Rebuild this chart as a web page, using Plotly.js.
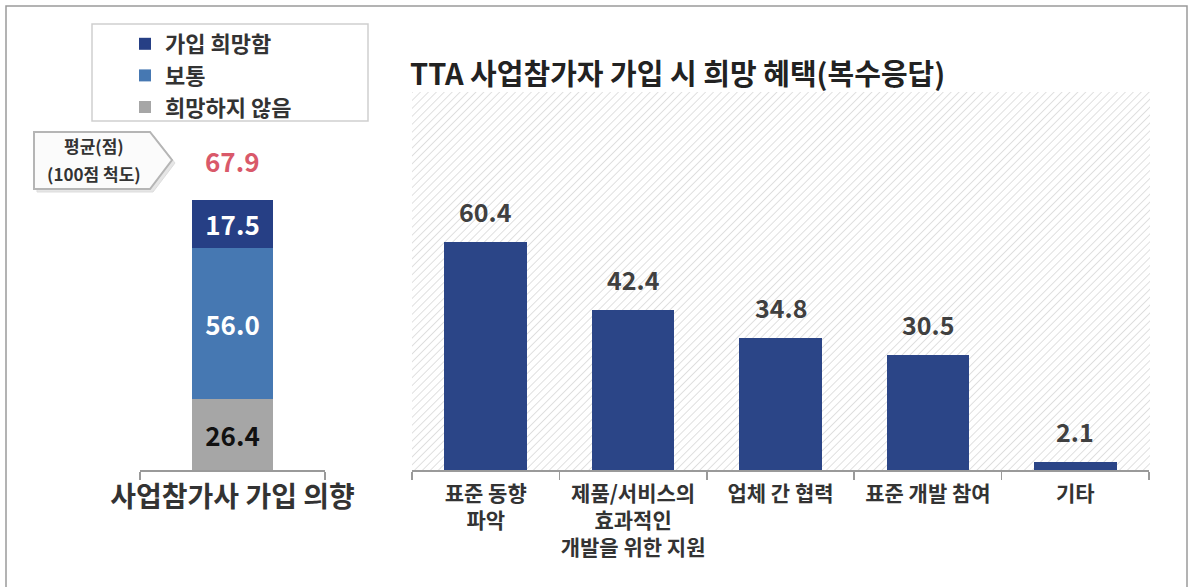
<!DOCTYPE html>
<html>
<head>
<meta charset="utf-8">
<script src="https://cdn.plot.ly/plotly-3.0.1.min.js"></script>
<style>
  html, body { margin: 0; padding: 0; background: #fff; }
  #chart { width: 1192px; height: 587px; }
</style>
</head>
<body>
<div id="chart"></div>
<script>
// left: intention to join (stacked, %)
const intentCats = ['사업참가사 가입 의향']
const intentSeries = ['희망하지 않음', '보통', '가입 희망함']
const intentValues = [26.4, 56.0, 17.5]
const intentColors = ['#a6a6a6', '#4678b2', '#263f85']
const intentTextColors = ['#111111', '#ffffff', '#ffffff']
const avgScore = 67.9

// right: desired benefits (multiple answers, %)
const benefitCats = ['표준 동향<br>파악', '제품/서비스의<br>효과적인<br>개발을 위한 지원', '업체 간 협력', '표준 개발 참여', '기타']
const benefitValues = [60.4, 42.4, 34.8, 30.5, 2.1]

const W = 1192, H = 587
const px = v => v / W
const py = v => 1 - v / H
const KR = '"Noto Sans CJK KR", "Noto Sans", sans-serif'

// stacked bar traces, bottom segment first
const traces = intentSeries.map((name, i) => ({
    type: 'bar',
    name: name,
    x: intentCats,
    y: [intentValues[i]],
    xaxis: 'x',
    yaxis: 'y',
    width: 0.44,
    marker: { color: intentColors[i] },
    texttemplate: '%{y:.1f}',
    textposition: 'inside',
    insidetextanchor: 'middle',
    constraintext: 'none',
    textangle: 0,
    textfont: { family: KR, size: 26, color: intentTextColors[i], weight: 'bold' },
    hoverinfo: 'skip'
}))

traces.push({
    type: 'bar',
    x: benefitCats,
    y: benefitValues,
    xaxis: 'x2',
    yaxis: 'y2',
    width: 0.56,
    marker: { color: '#2b4587' },
    showlegend: false,
    hoverinfo: 'skip'
})

// value labels above the benefit bars
const valueNotes = benefitCats.map((c, i) => ({
    x: c, y: benefitValues[i], xref: 'x2', yref: 'y2',
    text: benefitValues[i].toFixed(1),
    showarrow: false, xanchor: 'center', yanchor: 'bottom', yshift: 11,
    font: { family: KR, size: 25, color: '#404040', weight: 'bold' }
}))

// hatched plot background
const hatchW = 738, hatchH = 378
const hatchSvg = `<svg xmlns='http://www.w3.org/2000/svg' width='${hatchW}' height='${hatchH}'>` +
    `<defs><pattern id='p' width='5.6' height='5.6' patternUnits='userSpaceOnUse' patternTransform='rotate(45)'>` +
    `<line x1='0' y1='0' x2='0' y2='5.6' stroke='#d6d6d6' stroke-width='1.5'/></pattern></defs>` +
    `<rect width='100%' height='100%' fill='white'/><rect width='100%' height='100%' fill='url(#p)'/></svg>`

const calloutPath = pts => 'M' + pts.map(p => `${px(p[0])},${py(p[1])}`).join('L') + 'Z'
const callout = [[34, 132], [150, 132], [172, 160], [150, 189], [34, 189]]
const calloutShadow = callout.map(p => [p[0] + 3, p[1] + 3])

const paperNote = (x, y, text, size, color) => ({
    x: px(x), y: py(y), xref: 'paper', yref: 'paper', text: text, showarrow: false,
    xanchor: 'center', yanchor: 'middle',
    font: { family: KR, size: size, color: color, weight: 'bold' }
})

const layout = {
    width: W,
    height: H,
    margin: { l: 0, r: 0, t: 0, b: 0 },
    paper_bgcolor: '#ffffff',
    plot_bgcolor: 'rgba(0,0,0,0)',
    barmode: 'stack',
    font: { family: KR, color: '#333' },
    title: {
        text: 'TTA 사업참가자 가입 시 희망 혜택(복수응답)',
        x: px(410), xanchor: 'left', xref: 'paper',
        y: py(75), yanchor: 'middle', yref: 'paper',
        font: { family: KR, size: 29, color: '#222', weight: 'bold' }
    },
    showlegend: true,
    legend: {
        x: px(125), y: py(23), xanchor: 'left', yanchor: 'top',
        traceorder: 'reversed',
        itemwidth: 30,
        bgcolor: 'rgba(0,0,0,0)',
        font: { family: KR, size: 22, color: '#333', weight: 'bold' },
        tracegroupgap: 0
    },
    xaxis: {
        domain: [px(140), px(325)],
        type: 'category',
        showline: true, linecolor: '#9a9a9a', linewidth: 1.5,
        ticks: 'outside', tickson: 'boundaries', ticklen: 8, tickcolor: '#9a9a9a', tickwidth: 1.5,
        tickangle: 0,
        ticklabelstandoff: 2,
        tickfont: { family: KR, size: 28, color: '#333', weight: 'bold' },
        fixedrange: true
    },
    yaxis: {
        domain: [py(470), py(200)],
        range: [0, 100],
        visible: false,
        fixedrange: true
    },
    xaxis2: {
        domain: [px(412), px(1149)],
        type: 'category',
        anchor: 'y2',
        showline: true, linecolor: '#9a9a9a', linewidth: 1.5,
        ticks: 'outside', tickson: 'boundaries', ticklen: 8, tickcolor: '#9a9a9a', tickwidth: 1.5,
        tickangle: 0,
        ticklabelstandoff: 4,
        tickfont: { family: KR, size: 21, color: '#333', weight: 'bold' },
        fixedrange: true
    },
    yaxis2: {
        domain: [py(470), py(92)],
        range: [0, 100],
        anchor: 'x2',
        visible: false,
        fixedrange: true
    },
    images: [{
        source: 'data:image/svg+xml;charset=utf-8,' + encodeURIComponent(hatchSvg),
        xref: 'paper', yref: 'paper',
        x: px(412), y: py(92), sizex: hatchW / W, sizey: hatchH / H,
        xanchor: 'left', yanchor: 'top', sizing: 'stretch', layer: 'below'
    }],
    shapes: [
        // outer frame
        { type: 'rect', xref: 'paper', yref: 'paper', x0: px(6), x1: px(1187), y0: -0.05, y1: py(6),
          line: { color: '#9a9a9a', width: 1.5 }, layer: 'below' },
        // legend box
        { type: 'rect', xref: 'paper', yref: 'paper', x0: px(92), x1: px(368), y0: py(121), y1: py(24),
          line: { color: '#cfcfcf', width: 1.5 }, fillcolor: '#ffffff', layer: 'below' },
        // average callout
        { type: 'path', xref: 'paper', yref: 'paper', path: calloutPath(calloutShadow),
          line: { color: '#dddddd', width: 1 }, fillcolor: '#e6e6e6', layer: 'below' },
        { type: 'path', xref: 'paper', yref: 'paper', path: calloutPath(callout),
          line: { color: '#b5b5b5', width: 2 }, fillcolor: '#fbfbfb', layer: 'below' }
    ],
    annotations: [
        paperNote(94, 146, '평균(점)', 17, '#333'),
        paperNote(94, 173, '(100점 척도)', 17, '#333'),
        paperNote(232, 160, avgScore.toFixed(1), 26, '#d9596a')
    ].concat(valueNotes)
}

Plotly.newPlot(document.getElementById('chart'), traces, layout, { displayModeBar: false, staticPlot: true })
</script>
</body>
</html>
